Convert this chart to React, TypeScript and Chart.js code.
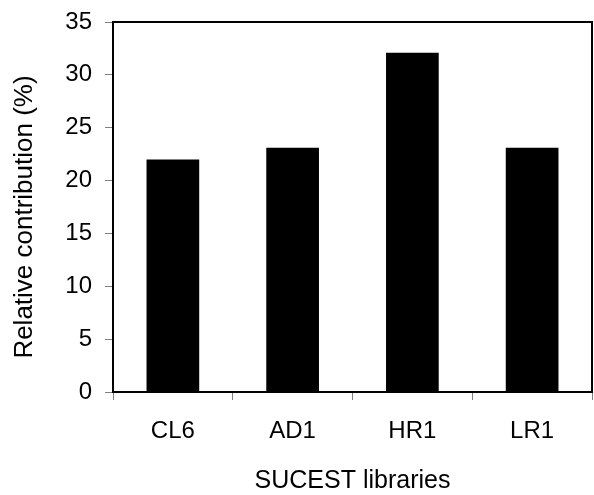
import React, { useEffect, useRef } from "react";
import { Chart, registerables } from "chart.js";

Chart.register(...registerables);

const categories: string[] = ["CL6", "AD1", "HR1", "LR1"];
const contribution: number[] = [22, 23.1, 32.1, 23.1];
const yMin = 0;
const yMax = 35;
const yStep = 5;
const xTitle = "SUCEST libraries";
const yTitle = "Relative contribution (%)";

const FONT = "'Liberation Sans', Arial, sans-serif";

const boxPlugin = {
  id: "plotBox",
  afterDatasetsDraw(chart: any) {
    const { ctx, chartArea } = chart;
    ctx.save();
    ctx.strokeStyle = "#000";
    ctx.lineWidth = 2;
    ctx.strokeRect(chartArea.left, chartArea.top, chartArea.right - chartArea.left, chartArea.bottom - chartArea.top);
    ctx.fillStyle = "#000";
    ctx.textAlign = "center";
    ctx.textBaseline = "middle";
    // x axis title
    ctx.font = `25px ${FONT}`;
    ctx.fillText(xTitle, (chartArea.left + chartArea.right) / 2, 481);
    // y axis title
    ctx.font = `26px ${FONT}`;
    ctx.translate(25, 217);
    ctx.rotate(-Math.PI / 2);
    ctx.fillText(yTitle, 0, 0);
    ctx.restore();
  },
};

export default function App() {
  const ref = useRef<HTMLCanvasElement | null>(null);
  useEffect(() => {
    if (!ref.current) return;
    const chart = new Chart(ref.current, {
      type: "bar",
      data: {
        labels: categories,
        datasets: [
          {
            data: contribution,
            backgroundColor: "#000",
            borderWidth: 0,
            barPercentage: 0.44,
            categoryPercentage: 1,
          },
        ],
      },
      options: {
        animation: false,
        responsive: true,
        maintainAspectRatio: false,
        layout: { padding: { top: 22, right: 2, left: 0, bottom: 0 } },
        plugins: { legend: { display: false }, tooltip: { enabled: false } },
        scales: {
          x: {
            offset: true,
            grid: {
              offset: true,
              drawOnChartArea: false,
              drawTicks: true,
              tickLength: 8,
              color: "#808080",
              lineWidth: 1,
            },
            border: { display: true, color: "#000", width: 2 },
            ticks: { color: "#000", font: { family: FONT, size: 24 }, padding: 17 },
            afterFit: (s: any) => {
              s.height = 103;
              s.paddingLeft = 0;
              s.paddingRight = 0;
            },
          },
          y: {
            min: yMin,
            max: yMax,
            grid: {
              drawOnChartArea: false,
              drawTicks: true,
              tickLength: 8,
              color: "#808080",
              lineWidth: 1,
            },
            border: { display: true, color: "#000", width: 2 },
            ticks: { stepSize: yStep, color: "#000", font: { family: FONT, size: 24 }, padding: 13 },
            afterFit: (s: any) => {
              s.width = 113;
              s.paddingTop = 0;
              s.paddingBottom = 0;
            },
          },
        },
      },
      plugins: [boxPlugin],
    });
    return () => chart.destroy();
  }, []);
  return (
    <div style={{ position: "absolute", left: 0, top: 0, width: 594, height: 495, background: "#fff" }}>
      <canvas ref={ref} />
    </div>
  );
}
